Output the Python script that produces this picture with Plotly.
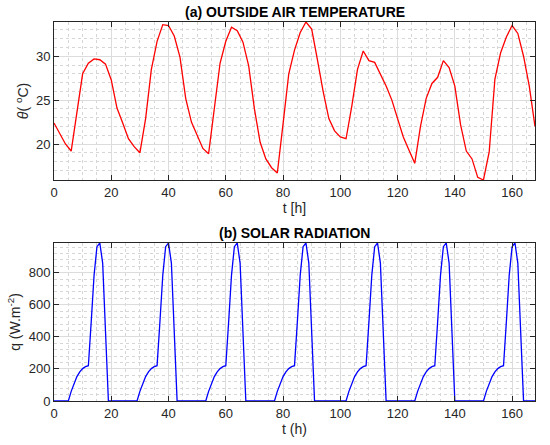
import numpy as np
import plotly.graph_objects as go

# ---- data ----
T_HOURS = list(range(0, 169, 2))
TEMP = [22.4, 21.2, 20.0, 19.2, 23.6, 28.0, 29.2, 29.7, 29.6, 29.1,
        27.3, 24.1, 22.4, 20.6, 19.7, 19.0, 22.9, 28.5, 31.7, 33.6,
        33.5, 32.3, 29.9, 25.2, 22.5, 20.9, 19.5, 18.9, 24.0, 29.2,
        31.7, 33.3, 32.9, 31.6, 28.9, 24.0, 20.2, 18.3, 17.3, 16.7,
        22.3, 28.0, 30.7, 32.7, 33.9, 33.1, 29.6, 26.0, 22.9, 21.5,
        20.8, 20.6, 24.3, 28.5, 30.6, 29.5, 29.3, 28.0, 26.6, 25.0,
        22.9, 20.8, 19.3, 17.8, 22.0, 25.2, 26.9, 27.6, 29.5, 28.7,
        26.6, 22.2, 19.2, 18.3, 16.2, 15.9, 19.1, 27.4, 30.4, 32.2,
        33.5, 32.6, 30.0, 26.6, 22.0]

# hourly solar profile of one day (hour 0..23), W/m2
DAY_PROFILE = [0, 0, 0, 0, 0, 0, 60, 112, 152, 182, 202, 214,
               220, 494, 785, 962, 985, 860, 440, 0, 0, 0, 0, 0]
# start-hour offset of each of the 7 days
DAY_SHIFT = [0, 0, 0, 0, 1, 1, 1]

Q_HOURS = list(range(0, 169))
Q = np.zeros(len(Q_HOURS))
for d, s in enumerate(DAY_SHIFT):
    for k, v in enumerate(DAY_PROFILE):
        idx = 24 * d + s + k
        if v and idx < len(Q):
            Q[idx] = v

X_TICKS = [0, 20, 40, 60, 80, 100, 120, 140, 160]

# ---- figure ----
W, H = 550, 445
L, R, T, B = 54, 15, 22, 44
PH = H - T - B
FONT = "Liberation Sans, Arial, Helvetica, sans-serif"
AX = "#262626"


def fy(px):
    """pixel row (from top) -> fraction of plot area (from bottom)"""
    return (H - B - px) / PH


fig = go.Figure()
fig.add_trace(go.Scatter(x=T_HOURS, y=TEMP, mode="lines",
                         line=dict(color="#ff0000", width=1.3),
                         xaxis="x", yaxis="y", showlegend=False))
fig.add_trace(go.Scatter(x=Q_HOURS, y=Q, mode="lines",
                         line=dict(color="#0000ff", width=1.3),
                         xaxis="x2", yaxis="y2", showlegend=False))

top_dom = [fy(180), 1.0]
bot_dom = [0.0, fy(243)]


def xaxis(anchor, title):
    return dict(domain=[0, 1], anchor=anchor, range=[0, 168], automargin=False,
                tickvals=X_TICKS, ticks="inside", ticklen=5, tickcolor=AX,
                showline=True, linecolor=AX, linewidth=1, mirror="ticks",
                showgrid=True, gridcolor="#dcdcdc", gridwidth=1,
                minor=dict(dtick=5, showgrid=True, gridcolor="#d6d6d6",
                           griddash="dot", ticks=""),
                zeroline=False,
                tickfont=dict(size=13, color=AX, family=FONT),
                title=dict(text=title, font=dict(size=14, color=AX, family=FONT),
                           standoff=4))


def yaxis(dom, anchor, rng, dtick, minor, title):
    return dict(domain=dom, anchor=anchor, range=rng, dtick=dtick, tick0=0,
                automargin=False,
                ticks="inside", ticklen=5, tickcolor=AX,
                showline=True, linecolor=AX, linewidth=1, mirror="ticks",
                showgrid=True, gridcolor="#dcdcdc", gridwidth=1,
                minor=dict(dtick=minor, showgrid=True, gridcolor="#d6d6d6",
                           griddash="dot", ticks=""),
                zeroline=False,
                tickfont=dict(size=13, color=AX, family=FONT),
                title=dict(text=title, font=dict(size=14, color=AX, family=FONT),
                           standoff=4))


fig.update_layout(
    width=W, height=H,
    margin=dict(l=L, r=R, t=T, b=B, autoexpand=False),
    paper_bgcolor="white", plot_bgcolor="white",
    font=dict(family=FONT, color=AX),
    xaxis=xaxis("y", "t [h]"),
    yaxis=yaxis(top_dom, "x", [min(TEMP), max(TEMP)], 5, 1,
                "<i>θ</i>(\u00a0<sup>o</sup>C)"),
    xaxis2=xaxis("y2", "t (h)"),
    yaxis2=yaxis(bot_dom, "x2", [0, float(Q.max())], 200, 40,
                 "q (W.m<sup>-2</sup>)"),
    annotations=[
        dict(text="<b>(a) OUTSIDE AIR TEMPERATURE</b>", xref="paper", yref="paper",
             x=0.5, y=fy(12), showarrow=False,
             xanchor="center", yanchor="middle",
             font=dict(size=14, color="black", family=FONT)),
        dict(text="<b>(b) SOLAR RADIATION</b>", xref="paper", yref="paper",
             x=0.5, y=fy(233), showarrow=False,
             xanchor="center", yanchor="middle",
             font=dict(size=14, color="black", family=FONT)),
    ],
)

fig.write_html("out.html",
               config={"displayModeBar": False},
               post_script="document.body.style.margin='0';"
                           "document.body.style.overflow='hidden';")
